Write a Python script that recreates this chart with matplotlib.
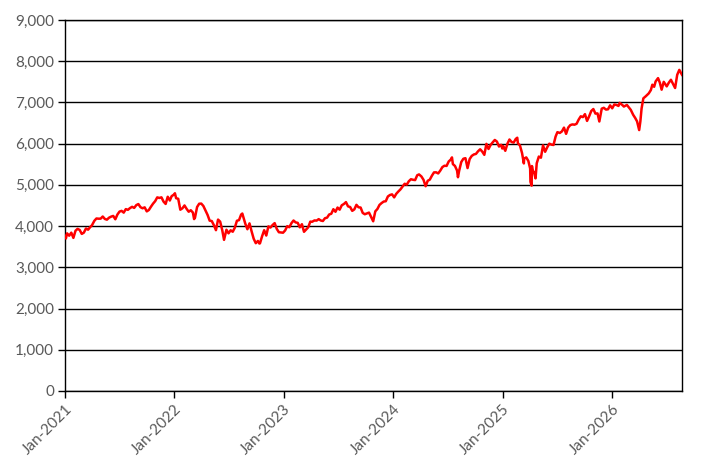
import matplotlib
matplotlib.use('Agg')
import matplotlib.pyplot as plt
import matplotlib.dates as mdates
from matplotlib.ticker import FuncFormatter, MultipleLocator
import pandas as pd

# index level, roughly weekly
dates_2021 = ['2021-01-01', '2021-01-04', '2021-01-08', '2021-01-15', '2021-01-22', '2021-01-29',
              '2021-02-05', '2021-02-12', '2021-02-19', '2021-02-26', '2021-03-05', '2021-03-12',
              '2021-03-19', '2021-03-26', '2021-04-01', '2021-04-09', '2021-04-16', '2021-04-23',
              '2021-04-30', '2021-05-07', '2021-05-14', '2021-05-21', '2021-05-28', '2021-06-04',
              '2021-06-11', '2021-06-18', '2021-06-25', '2021-07-02', '2021-07-09', '2021-07-16',
              '2021-07-23', '2021-07-30', '2021-08-06', '2021-08-13', '2021-08-20', '2021-08-27',
              '2021-09-03', '2021-09-10', '2021-09-17', '2021-09-24', '2021-10-01', '2021-10-08',
              '2021-10-15', '2021-10-22', '2021-10-29', '2021-11-05', '2021-11-12', '2021-11-19',
              '2021-11-26', '2021-12-03', '2021-12-10', '2021-12-17', '2021-12-23', '2021-12-31']
values_2021 = [3756, 3700, 3824, 3768, 3841, 3714,
               3887, 3934, 3907, 3811, 3842, 3943,
               3913, 3975, 4020, 4129, 4185, 4180,
               4181, 4233, 4174, 4156, 4204, 4230,
               4247, 4166, 4281, 4352, 4370, 4327,
               4412, 4395, 4437, 4468, 4442, 4509,
               4535, 4459, 4433, 4455, 4357, 4391,
               4471, 4545, 4605, 4697, 4683, 4698,
               4595, 4538, 4712, 4621, 4726, 4766]

dates_2022 = ['2022-01-03', '2022-01-07', '2022-01-14', '2022-01-21', '2022-01-28', '2022-02-04',
              '2022-02-11', '2022-02-18', '2022-02-25', '2022-03-04', '2022-03-08', '2022-03-11',
              '2022-03-18', '2022-03-25', '2022-04-01', '2022-04-08', '2022-04-14', '2022-04-22',
              '2022-04-29', '2022-05-06', '2022-05-13', '2022-05-20', '2022-05-27', '2022-06-03',
              '2022-06-10', '2022-06-16', '2022-06-24', '2022-07-01', '2022-07-08', '2022-07-15',
              '2022-07-22', '2022-07-29', '2022-08-05', '2022-08-12', '2022-08-16', '2022-08-19',
              '2022-08-26', '2022-09-02', '2022-09-09', '2022-09-16', '2022-09-23', '2022-09-30',
              '2022-10-07', '2022-10-12', '2022-10-14', '2022-10-21', '2022-10-28', '2022-11-04',
              '2022-11-11', '2022-11-18', '2022-11-25', '2022-12-02', '2022-12-09', '2022-12-16',
              '2022-12-23', '2022-12-30']
values_2022 = [4797, 4677, 4663, 4398, 4432, 4501,
               4419, 4349, 4385, 4329, 4170, 4204,
               4463, 4543, 4546, 4488, 4393, 4272,
               4132, 4123, 4024, 3901, 4158, 4109,
               3901, 3667, 3912, 3825, 3899, 3863,
               3962, 4130, 4145, 4280, 4305, 4228,
               4058, 3924, 4067, 3873, 3693, 3586,
               3640, 3577, 3583, 3753, 3901, 3771,
               3993, 3965, 4026, 4072, 3934, 3852,
               3845, 3840]

dates_2023 = ['2023-01-06', '2023-01-13', '2023-01-20', '2023-01-27', '2023-02-03', '2023-02-10',
              '2023-02-17', '2023-02-24', '2023-03-03', '2023-03-10', '2023-03-17', '2023-03-24',
              '2023-03-31', '2023-04-06', '2023-04-14', '2023-04-21', '2023-04-28', '2023-05-05',
              '2023-05-12', '2023-05-19', '2023-05-26', '2023-06-02', '2023-06-09', '2023-06-16',
              '2023-06-23', '2023-06-30', '2023-07-07', '2023-07-14', '2023-07-21', '2023-07-28',
              '2023-08-04', '2023-08-11', '2023-08-18', '2023-08-25', '2023-09-01', '2023-09-08',
              '2023-09-15', '2023-09-22', '2023-09-29', '2023-10-06', '2023-10-13', '2023-10-20',
              '2023-10-27', '2023-11-03', '2023-11-10', '2023-11-17', '2023-11-24', '2023-12-01',
              '2023-12-08', '2023-12-15', '2023-12-22', '2023-12-29']
values_2023 = [3895, 3999, 3973, 4071, 4136, 4090,
               4079, 3970, 4046, 3862, 3917, 3971,
               4109, 4105, 4138, 4133, 4169, 4136,
               4124, 4192, 4205, 4282, 4299, 4410,
               4348, 4450, 4399, 4505, 4536, 4582,
               4478, 4464, 4370, 4406, 4516, 4457,
               4450, 4320, 4288, 4309, 4328, 4224,
               4117, 4358, 4415, 4514, 4559, 4595,
               4604, 4719, 4755, 4770]

dates_2024 = ['2024-01-05', '2024-01-12', '2024-01-19', '2024-01-26', '2024-02-02', '2024-02-09',
              '2024-02-16', '2024-02-23', '2024-03-01', '2024-03-08', '2024-03-15', '2024-03-22',
              '2024-03-28', '2024-04-05', '2024-04-12', '2024-04-19', '2024-04-26', '2024-05-03',
              '2024-05-10', '2024-05-17', '2024-05-24', '2024-05-31', '2024-06-07', '2024-06-14',
              '2024-06-21', '2024-06-28', '2024-07-05', '2024-07-12', '2024-07-16', '2024-07-19',
              '2024-07-26', '2024-08-02', '2024-08-05', '2024-08-09', '2024-08-16', '2024-08-23',
              '2024-08-30', '2024-09-06', '2024-09-13', '2024-09-20', '2024-09-27', '2024-10-04',
              '2024-10-11', '2024-10-18', '2024-10-25', '2024-11-01', '2024-11-08', '2024-11-15',
              '2024-11-22', '2024-11-29', '2024-12-06', '2024-12-13', '2024-12-20', '2024-12-27',
              '2024-12-31']
values_2024 = [4697, 4784, 4840, 4891, 4959, 5027,
               5006, 5089, 5137, 5124, 5117, 5234,
               5254, 5204, 5123, 4967, 5100, 5128,
               5223, 5303, 5305, 5278, 5347, 5432,
               5465, 5460, 5567, 5615, 5667, 5505,
               5459, 5347, 5186, 5344, 5554, 5634,
               5648, 5408, 5626, 5703, 5738, 5751,
               5815, 5864, 5808, 5729, 5996, 5871,
               5969, 6032, 6090, 6051, 5931, 5971,
               5882]

dates_2025 = ['2025-01-03', '2025-01-10', '2025-01-17', '2025-01-24', '2025-01-31', '2025-02-07',
              '2025-02-14', '2025-02-19', '2025-02-21', '2025-02-28', '2025-03-07', '2025-03-13',
              '2025-03-14', '2025-03-21', '2025-03-28', '2025-04-03', '2025-04-04', '2025-04-08',
              '2025-04-09', '2025-04-11', '2025-04-17', '2025-04-21', '2025-04-25', '2025-05-02',
              '2025-05-09', '2025-05-16', '2025-05-23', '2025-05-30', '2025-06-06', '2025-06-13',
              '2025-06-20', '2025-06-27', '2025-07-03', '2025-07-11', '2025-07-18', '2025-07-25',
              '2025-08-01', '2025-08-08', '2025-08-15', '2025-08-22', '2025-08-29', '2025-09-05',
              '2025-09-12', '2025-09-19', '2025-09-26', '2025-10-03', '2025-10-10', '2025-10-17',
              '2025-10-24', '2025-10-31', '2025-11-07', '2025-11-14', '2025-11-20', '2025-11-28',
              '2025-12-05', '2025-12-12', '2025-12-19', '2025-12-26']
values_2025 = [5942, 5827, 5997, 6101, 6041, 6026,
               6115, 6144, 6013, 5955, 5770, 5521,
               5639, 5667, 5581, 5397, 5074, 4982,
               5457, 5363, 5283, 5158, 5525, 5687,
               5660, 5958, 5803, 5912, 6000, 5977,
               5968, 6173, 6279, 6260, 6297, 6389,
               6238, 6389, 6450, 6467, 6460, 6482,
               6584, 6664, 6644, 6716, 6552, 6664,
               6792, 6840, 6729, 6734, 6538, 6849,
               6870, 6827, 6834, 6930]

dates_2026 = ['2026-01-02', '2026-01-09', '2026-01-16', '2026-01-23', '2026-01-27', '2026-02-06',
              '2026-02-10', '2026-02-20', '2026-03-05', '2026-03-13', '2026-03-20', '2026-03-26',
              '2026-04-02', '2026-04-06', '2026-04-10', '2026-04-16', '2026-04-24', '2026-05-04',
              '2026-05-11', '2026-05-16', '2026-05-22', '2026-05-27', '2026-06-04', '2026-06-10',
              '2026-06-16', '2026-06-23', '2026-07-03', '2026-07-10', '2026-07-17', '2026-07-24',
              '2026-07-31', '2026-08-07', '2026-08-14', '2026-08-23']
values_2026 = [6858, 6950, 6940, 6915, 6990, 6930,
               6900, 6940, 6820, 6700, 6620, 6540,
               6330, 6540, 6850, 7100, 7150, 7220,
               7300, 7430, 7380, 7510, 7590, 7480,
               7310, 7500, 7390, 7480, 7550, 7450,
               7350, 7670, 7790, 7670]

dates = pd.to_datetime(dates_2021 + dates_2022 + dates_2023 + dates_2024 + dates_2025 + dates_2026)
values = values_2021 + values_2022 + values_2023 + values_2024 + values_2025 + values_2026

plt.rcParams['font.family'] = ['Lato', 'DejaVu Sans']

fig = plt.figure(figsize=(7.16, 4.71), dpi=100)
ax = fig.add_axes([65 / 716, 1 - 391 / 471, 617 / 716, 371 / 471])

ax.plot(dates, values, color='#ff0000', linewidth=1.8, zorder=3)

ax.set_xlim(dates[0], dates[-1])
ax.set_ylim(0, 9000)
ax.yaxis.set_major_locator(MultipleLocator(1000))
ax.yaxis.set_major_formatter(FuncFormatter(lambda v, p: '{:,.0f}'.format(v)))
ax.xaxis.set_major_locator(mdates.YearLocator())
ax.xaxis.set_major_formatter(mdates.DateFormatter('%b-%Y'))

ax.grid(axis='y', color='black', linewidth=1.0, zorder=1)
for s in ax.spines.values():
    s.set_color('black')
    s.set_linewidth(1.0)

ax.tick_params(axis='y', length=5, width=1, color='black', labelcolor='#595959', labelsize=11, pad=3)
ax.tick_params(axis='x', length=5, width=1, color='black', labelcolor='#595959', labelsize=11, pad=3)
plt.setp(ax.get_xticklabels(), rotation=45, ha='right', rotation_mode='anchor')

fig.savefig('out.png', dpi=100)
